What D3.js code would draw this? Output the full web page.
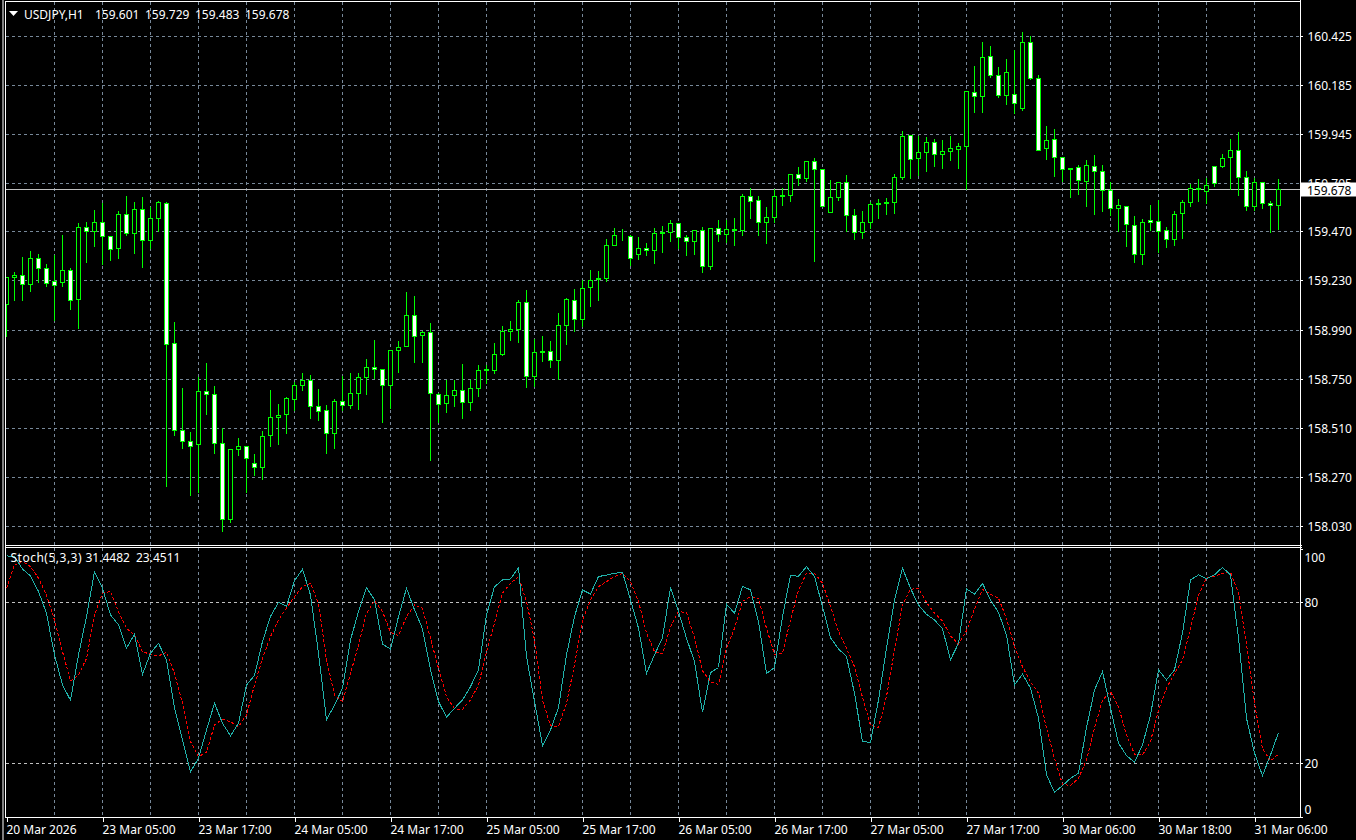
<!DOCTYPE html>
<html><head><meta charset="utf-8">
<script src="https://cdn.jsdelivr.net/npm/d3@7/dist/d3.min.js"></script>
<style>
html,body{margin:0;padding:0;background:#000;overflow:hidden}
svg{display:block}
text{font-family:"Noto Sans",sans-serif;font-size:12px;fill:#fff}
</style></head><body>
<svg id="c" width="1356" height="840"></svg>
<script>
const symbolTitle=["USDJPY,H1","159.601","159.729","159.483","159.678"];
const stochTitle=["Stoch(5,3,3)","31.4482","23.4511"];
const lastPrice=159.678;
const priceTicks=[160.425,160.185,159.945,159.705,159.470,159.230,158.990,158.750,158.510,158.270,158.030];
const stochTicks=[100,80,20,0];
const stochLevels=[80,20];
const timeLabels=["20 Mar 2026","23 Mar 05:00","23 Mar 17:00","24 Mar 05:00","24 Mar 17:00","25 Mar 05:00","25 Mar 17:00","26 Mar 05:00","26 Mar 17:00","27 Mar 05:00","27 Mar 17:00","30 Mar 06:00","30 Mar 18:00","31 Mar 06:00"];

const opens=[159.115,159.247,159.255,159.213,159.340,159.291,159.226,159.223,159.281,159.140,159.492,159.470,159.516,159.448,159.387,159.555,159.462,159.580,159.428,159.536,
159.609,158.925,158.499,158.446,158.431,158.690,158.675,158.436,158.064,158.407,158.421,158.338,158.319,158.473,158.563,158.576,158.649,158.719,158.744,158.617,
158.597,158.485,158.641,158.622,158.680,158.759,158.807,158.798,158.719,158.890,158.910,159.062,158.964,158.978,158.675,158.631,158.670,158.695,158.636,158.705,
158.793,158.793,158.871,158.983,158.993,159.125,158.763,158.881,158.886,158.841,159.013,159.135,159.042,159.198,159.238,159.242,159.404,159.451,159.448,159.360,
159.389,159.379,159.462,159.467,159.511,159.443,159.423,159.477,159.301,159.487,159.457,159.477,159.477,159.643,159.624,159.516,159.540,159.641,159.646,159.751,
159.731,159.814,159.775,159.565,159.638,159.711,159.550,159.467,159.516,159.606,159.609,159.614,159.736,159.941,159.829,159.858,159.907,159.848,159.863,159.873,
159.886,160.151,160.132,160.327,160.234,160.137,160.142,160.073,160.396,160.220,159.878,159.922,159.834,159.780,159.785,159.716,159.790,159.765,159.672,159.584,
159.594,159.501,159.360,159.526,159.521,159.477,159.433,159.560,159.614,159.677,159.668,159.790,159.790,159.834,159.868,159.736,159.594,159.712,159.609,159.601];
const highs=[159.254,159.278,159.351,159.381,159.365,159.316,159.361,159.459,159.296,159.518,159.521,159.581,159.614,159.452,159.576,159.650,159.620,159.645,159.594,159.625,
159.620,159.034,158.711,158.496,158.762,158.833,158.721,158.516,158.411,158.467,158.421,158.387,158.501,158.701,158.633,158.667,158.741,158.785,158.773,158.705,
158.628,158.656,158.768,158.785,158.785,158.853,158.946,158.802,158.890,158.941,159.180,159.161,158.990,159.027,158.687,158.749,158.749,158.829,158.749,158.824,
158.824,158.931,159.014,159.039,159.140,159.190,158.951,158.965,158.941,159.078,159.151,159.195,159.238,159.288,159.283,159.438,159.493,159.488,159.459,159.449,
159.420,159.493,159.503,159.532,159.511,159.459,159.482,159.498,159.493,159.532,159.532,159.542,159.659,159.689,159.650,159.596,159.682,159.689,159.757,159.791,
159.821,159.835,159.775,159.728,159.711,159.752,159.586,159.576,159.619,159.635,159.640,159.757,159.967,159.941,159.941,159.938,159.928,159.923,159.943,159.909,
160.156,160.285,160.402,160.383,160.280,160.319,160.363,160.451,160.432,160.241,159.992,159.977,159.834,159.785,159.801,159.826,159.850,159.801,159.716,159.635,
159.599,159.552,159.537,159.606,159.630,159.498,159.576,159.630,159.707,159.733,159.736,159.795,159.855,159.928,159.962,159.772,159.736,159.716,159.625,159.729];
const lows=[158.957,159.136,159.133,159.177,159.221,159.205,159.039,159.205,159.092,159.000,159.322,159.400,159.312,159.332,159.342,159.454,159.366,159.298,159.391,159.474,
158.227,158.477,158.413,158.183,158.198,158.579,158.389,158.007,158.051,158.379,158.198,158.279,158.262,158.423,158.433,158.486,158.597,158.697,158.560,158.550,
158.389,158.413,158.599,158.609,158.604,158.677,158.754,158.540,158.609,158.785,158.910,158.833,158.833,158.354,158.540,158.589,158.618,158.560,158.599,158.667,
158.729,158.780,158.868,158.941,158.931,158.711,158.716,158.838,158.809,158.749,158.921,158.985,159.009,159.107,159.136,159.228,159.404,159.430,159.308,159.337,
159.356,159.317,159.371,159.425,159.390,159.356,159.361,159.273,159.288,159.425,159.420,159.405,159.454,159.537,159.454,159.415,159.518,159.601,159.620,159.698,
159.718,159.327,159.594,159.565,159.625,159.474,159.435,159.439,159.488,159.537,159.557,159.562,159.726,159.733,159.747,159.767,159.791,159.782,159.821,159.782,
159.679,160.052,160.055,160.226,160.127,160.094,160.050,160.065,160.215,159.868,159.826,159.743,159.716,159.640,159.655,159.596,159.557,159.571,159.552,159.474,
159.397,159.322,159.312,159.479,159.371,159.395,159.405,159.439,159.596,159.620,159.609,159.694,159.785,159.677,159.650,159.576,159.576,159.586,159.469,159.483];
const closes=[159.249,159.257,159.213,159.340,159.291,159.216,159.208,159.281,159.135,159.492,159.470,159.516,159.448,159.384,159.555,159.462,159.580,159.428,159.536,159.614,
158.920,158.499,158.444,158.421,158.690,158.675,158.436,158.064,158.407,158.421,158.363,158.319,158.470,158.563,158.573,158.656,158.719,158.744,158.617,158.592,
158.485,158.641,158.622,158.680,158.759,158.807,158.798,158.719,158.890,158.905,159.062,158.959,158.978,158.680,158.627,158.670,158.695,158.636,158.705,158.793,
158.798,158.871,158.983,158.993,159.125,158.763,158.881,158.886,158.841,159.013,159.140,159.042,159.193,159.233,159.242,159.404,159.453,159.454,159.340,159.389,
159.379,159.462,159.467,159.511,159.443,159.423,159.477,159.301,159.487,159.457,159.482,159.482,159.643,159.619,159.516,159.540,159.643,159.646,159.751,159.731,
159.814,159.775,159.594,159.638,159.711,159.550,159.467,159.516,159.604,159.609,159.614,159.736,159.936,159.824,159.858,159.907,159.848,159.863,159.878,159.887,
160.156,160.132,160.322,160.234,160.137,160.249,160.098,160.396,160.220,159.868,159.917,159.834,159.775,159.775,159.721,159.795,159.765,159.672,159.584,159.599,
159.506,159.360,159.516,159.516,159.472,159.433,159.555,159.614,159.682,159.682,159.697,159.707,159.829,159.868,159.736,159.594,159.712,159.609,159.599,159.678];

const stochMain=[97.3,97.0,92.4,89.8,84.0,75.9,60.4,49.2,43.5,60.4,74.7,91.4,85.2,75.3,71.6,62.9,68.1,53.2,61.0,64.7,
58.5,40.5,28.7,16.9,21.9,32.4,42.4,34.9,30.3,34.9,49.2,52.7,65.4,74.7,80.0,78.5,88.0,92.3,82.7,61.0,
36.2,41.7,48.0,66.0,76.5,85.5,80.9,64.4,62.6,74.7,85.2,77.2,70.1,54.8,43.0,37.2,40.5,43.6,48.6,54.8,
75.3,85.8,88.3,88.7,92.9,59.8,43.0,26.6,32.4,40.8,60.4,74.7,84.6,83.1,89.6,90.1,90.8,91.2,80.9,70.3,
53.5,60.4,66.8,85.5,76.5,66.6,57.9,39.0,53.8,55.7,79.3,75.9,86.0,84.6,72.8,53.5,55.7,74.7,90.0,89.7,
93.3,89.6,78.4,66.8,62.6,59.8,46.1,28.1,27.8,43.6,62.9,80.9,92.7,85.2,79.0,75.5,73.4,70.1,58.6,64.7,
85.0,83.0,87.0,80.9,76.2,67.8,49.2,53.2,48.0,36.8,15.7,9.2,11.7,14.4,16.3,33.3,47.3,54.2,40.5,27.5,
22.9,20.4,26.9,38.0,54.8,51.1,54.8,68.5,88.3,90.2,88.7,90.2,93.0,90.2,66.6,36.8,23.8,15.4,23.1,31.4482];
const stochSignal=[85.2,93.9,95.2,93.3,89.0,82.7,73.4,61.6,50.7,52.9,59.1,75.3,83.4,84.0,76.5,70.3,67.8,61.6,60.6,60.0,
61.4,53.5,42.4,28.1,22.5,24.1,34.3,36.5,35.5,33.7,38.0,49.2,59.1,67.2,73.4,77.8,82.1,85.8,87.1,79.6,
58.5,45.5,43.0,53.5,64.1,75.9,80.5,76.5,68.8,67.6,74.7,79.0,77.8,66.6,55.4,44.9,40.3,40.1,43.6,49.2,
61.6,72.2,83.4,87.1,89.6,80.3,66.0,43.6,34.1,33.7,42.4,56.7,73.4,80.9,85.8,87.7,89.6,90.8,87.7,80.3,
68.5,61.6,60.8,70.9,76.5,76.2,66.8,54.5,50.4,49.4,62.9,70.3,80.3,82.1,81.5,70.3,60.6,61.0,73.4,84.6,
90.8,90.8,87.1,78.4,69.1,62.9,56.0,44.6,34.1,33.4,44.9,62.2,79.0,84.8,85.2,80.0,75.9,73.1,67.5,64.5,
69.4,77.5,84.8,83.0,81.5,74.0,63.5,56.0,50.4,46.1,33.1,21.9,12.2,11.7,14.4,21.3,33.1,43.6,46.7,41.1,
30.6,23.4,23.1,28.1,39.9,48.0,53.5,58.5,70.3,82.7,89.0,89.6,90.8,91.2,83.4,64.5,42.4,25.4,20.9,23.4511];

const svg=d3.select("#c");
const idx=d3.range(opens.length);
const x=d3.scaleLinear().domain([0,159]).range([6.5,1278.5]);
const yP=d3.scaleLinear().domain([158.030,160.425]).range([526.5,36.5]);
const yS=d3.scaleLinear().domain([0,100]).range([817,548.6]);
const snap=v=>Math.round(v-0.5)+0.5;
const GRID="#778899", LEVEL="#C0C0C0", GREEN="#00FF00";
const FONT='"Noto Sans",sans-serif';

const defs=svg.append("defs");
defs.append("clipPath").attr("id","mp").append("rect").attr("x",6).attr("y",2).attr("width",1294).attr("height",543);
defs.append("clipPath").attr("id","sp").append("rect").attr("x",6).attr("y",548).attr("width",1294).attr("height",269);

// window frame
svg.append("rect").attr("x",2).attr("y",0).attr("width",2).attr("height",840).attr("fill","#808080");
const frame=[[5.5,0.5,5.5,817.5],[5,1.5,1301,1.5],[5,545.5,1302,545.5],[5,547.5,1302,547.5],[5,817.5,1301,817.5],[1300.5,0,1300.5,818]];
svg.append("g").selectAll("line").data(frame).join("line")
 .attr("x1",d=>d[0]).attr("y1",d=>d[1]).attr("x2",d=>d[2]).attr("y2",d=>d[3]).attr("stroke","#fff").attr("shape-rendering","crispEdges");

// grids
const gridIdx=idx.filter(i=>i%6===0&&i>0);
const gm=svg.append("g").attr("clip-path","url(#mp)").attr("shape-rendering","crispEdges");
gm.selectAll("line.v").data(gridIdx).join("line").attr("class","v")
 .attr("x1",d=>x(d)).attr("x2",d=>x(d)).attr("y1",2).attr("y2",545).attr("stroke",GRID).attr("stroke-dasharray","3,3");
gm.selectAll("line.h").data(priceTicks).join("line").attr("class","h")
 .attr("x1",6).attr("x2",1300).attr("y1",d=>snap(yP(d))).attr("y2",d=>snap(yP(d))).attr("stroke",GRID).attr("stroke-dasharray","3,3");
const gs=svg.append("g").attr("clip-path","url(#sp)").attr("shape-rendering","crispEdges");
gs.selectAll("line.v").data(gridIdx).join("line").attr("class","v")
 .attr("x1",d=>x(d)).attr("x2",d=>x(d)).attr("y1",548).attr("y2",817).attr("stroke",GRID).attr("stroke-dasharray","3,3");
gs.selectAll("line.h").data(stochLevels).join("line").attr("class","h")
 .attr("x1",6).attr("x2",1300).attr("y1",d=>snap(yS(d))).attr("y2",d=>snap(yS(d))).attr("stroke",LEVEL).attr("stroke-dasharray","3,3");

// last price line
svg.append("line").attr("x1",6).attr("x2",1300).attr("y1",snap(yP(lastPrice))).attr("y2",snap(yP(lastPrice)))
 .attr("stroke",LEVEL).attr("shape-rendering","crispEdges");

// candles
const cg=svg.append("g").attr("clip-path","url(#mp)").attr("shape-rendering","crispEdges");
cg.selectAll("line.w").data(idx).join("line").attr("class","w")
 .attr("x1",i=>x(i)).attr("x2",i=>x(i)).attr("y1",i=>snap(yP(highs[i]))).attr("y2",i=>snap(yP(lows[i]))).attr("stroke",GREEN);
cg.selectAll("rect.b").data(idx).join("rect").attr("class","b")
 .attr("x",i=>x(i)-2).attr("width",4)
 .attr("y",i=>snap(yP(Math.max(opens[i],closes[i]))))
 .attr("height",i=>snap(yP(Math.min(opens[i],closes[i])))-snap(yP(Math.max(opens[i],closes[i]))))
 .attr("fill",i=>closes[i]>=opens[i]?"#000":"#fff").attr("stroke",GREEN);

// stochastic
const lineMain=d3.line().x((d,i)=>x(i)).y(d=>yS(d));
const sg=svg.append("g").attr("clip-path","url(#sp)").attr("fill","none");
sg.append("path").attr("d",lineMain(stochSignal)).attr("stroke","#FF0000").attr("stroke-dasharray","3,2").attr("shape-rendering","crispEdges");
sg.append("path").attr("d",lineMain(stochMain)).attr("stroke","#20B2AA").attr("shape-rendering","crispEdges");

// axes
function styleAxis(g){g.select(".domain").remove();g.selectAll("line").attr("stroke","#fff").attr("shape-rendering","crispEdges");
 g.selectAll("text").attr("fill","#fff").style("font-family",FONT).style("font-size","12px");}
const ap=svg.append("g").attr("transform","translate(1300.5,0)")
 .call(d3.axisRight(yP).tickValues(priceTicks).tickFormat(d3.format(".3f")).tickSize(2).tickPadding(5));
styleAxis(ap);
ap.selectAll(".tick").attr("transform",d=>`translate(0,${snap(yP(d))})`);
ap.selectAll("text").attr("dy","0.4em");
const as=svg.append("g").attr("transform","translate(1300.5,0)")
 .call(d3.axisRight(yS).tickValues(stochTicks).tickSize(2).tickPadding(2));
styleAxis(as);
as.selectAll("text").attr("dy",d=>d===100?"1.05em":d===0?"-0.3em":"0.36em");
const tIdx=timeLabels.map((_,k)=>k*12);
const at=svg.append("g").attr("transform","translate(0,817.5)")
 .call(d3.axisBottom(x).tickValues(tIdx).tickFormat((d,k)=>timeLabels[k]).tickSize(4).tickPadding(4));
styleAxis(at);
at.selectAll("text").attr("text-anchor","start").attr("dx","-0.5");

// price tag
const py=snap(yP(lastPrice));
svg.append("rect").attr("x",1301).attr("y",py-7).attr("width",55).attr("height",14).attr("fill","#fff");
svg.append("text").attr("x",1307).attr("y",py+5).text(d3.format(".3f")(lastPrice)).style("fill","#000");

// titles
svg.append("path").attr("d",d3.line()([[9,11],[18,11],[13.5,16]])+"Z").attr("fill","#fff");
const titleX=[24,95,145,195,245];
svg.append("g").selectAll("text").data(symbolTitle).join("text")
 .attr("x",(d,i)=>titleX[i]).attr("y",18.5).text(d=>d);
const stochX=[10.5,85.5,136];
svg.append("g").selectAll("text").data(stochTitle).join("text")
 .attr("x",(d,i)=>stochX[i]).attr("y",562).style("letter-spacing",(d,i)=>i===0?"0.5px":null).text(d=>d);
</script>
</body></html>
